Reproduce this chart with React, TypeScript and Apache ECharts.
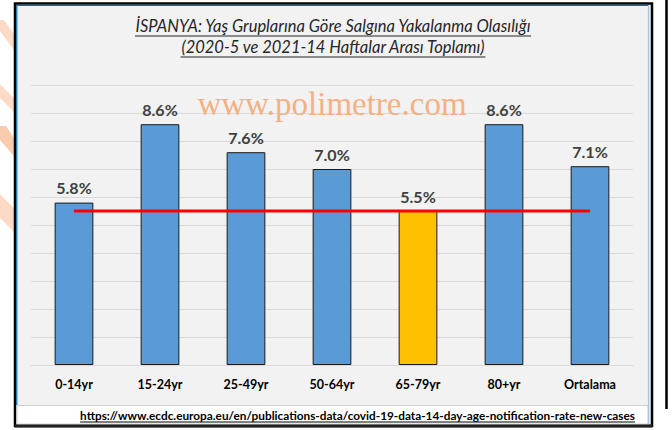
import React, { useEffect, useRef } from "react";
import * as echarts from "echarts";

const categories = ["0-14yr", "15-24yr", "25-49yr", "50-64yr", "65-79yr", "80+yr", "Ortalama"];
const values = [5.8, 8.6, 7.6, 7.0, 5.5, 8.6, 7.1];
const highlightCategory = "65-79yr";
const referenceValue = 5.5;
const yTicks = { min: 0, max: 10, interval: 1 };

const titleLine1 = "İSPANYA: Yaş Gruplarına Göre Salgına Yakalanma Olasılığı";
const titleLine2 = "(2020-5 ve 2021-14 Haftalar Arası Toplamı)";
const watermark = "www.polimetre.com";
const sourceUrl = "https://www.ecdc.europa.eu/en/publications-data/covid-19-data-14-day-age-notification-rate-new-cases";

function measure(text: string, font: string): number {
  const c = document.createElement("canvas").getContext("2d");
  if (!c) return text.length * 7;
  c.font = font;
  return c.measureText(text).width;
}

export default function App() {
  const ref = useRef<HTMLDivElement>(null);
  useEffect(() => {
    if (!ref.current) return;
    const chart = echarts.init(ref.current, undefined, { renderer: "svg" });
    const titleSize = 16.5;
    const urlSize = 11.8;
    const w1 = measure(titleLine1, `italic ${titleSize}px Lato`);
    const w2 = measure(titleLine2, `italic ${titleSize}px Lato`);
    const wu = measure(sourceUrl, `bold ${urlSize}px Lato`);
    const cx = 333;
    const t1y = 26;
    const t2y = 47;
    const uy = 415;
    const ux = 635;
    const peach = "rgba(248,190,150,0.55)";
    const titleStyle = (text: string) => ({
      text,
      fontFamily: "Lato",
      fontStyle: "italic",
      fontSize: titleSize,
      fill: "#262626",
      align: "center",
      verticalAlign: "middle",
    });
    chart.setOption({
      animation: false,
      grid: { left: 31, right: 39, top: 85, bottom: 65 },
      xAxis: {
        type: "category",
        data: categories,
        axisLine: { show: true, lineStyle: { color: "#d9d9d9", width: 1 } },
        axisTick: { show: false },
        axisLabel: {
          color: "#000",
          fontFamily: "Lato",
          fontWeight: "bold",
          fontSize: 12.5,
          margin: 13,
        },
      },
      yAxis: {
        type: "value",
        min: yTicks.min,
        max: yTicks.max,
        interval: yTicks.interval,
        axisLabel: { show: false },
        axisLine: { show: false },
        axisTick: { show: false },
        splitLine: { lineStyle: { color: "#d9d9d9", width: 1 } },
      },
      series: [
        {
          type: "bar",
          data: values.map((v, i) => ({
            value: v,
            itemStyle: {
              color: categories[i] === highlightCategory ? "#ffc000" : "#5b9bd5",
            },
          })),
          barCategoryGap: "55%",
          itemStyle: { borderColor: "#1a1a1a", borderWidth: 1 },
          label: {
            show: true,
            position: "top",
            distance: 7,
            formatter: (p: any) => Number(p.value).toFixed(1) + "%",
            color: "#404040",
            fontFamily: "Lato",
            fontWeight: "bold",
            fontSize: 16,
          },
          z: 2,
        },
        {
          type: "line",
          data: categories.map(() => referenceValue),
          symbol: "none",
          lineStyle: { color: "#ff0000", width: 3 },
          z: 3,
        },
      ],
      graphic: [
        // left edge watermark fragments
        { type: "polygon", z: -5, shape: { points: [[0, 20], [4, 20], [14, 34], [14, 50], [0, 31]] }, style: { fill: peach } },
        { type: "polygon", z: -5, shape: { points: [[0, 84], [14, 98], [14, 112], [0, 98]] }, style: { fill: peach } },
        { type: "polygon", z: -5, shape: { points: [[0, 126], [6, 126], [14, 138], [14, 156], [0, 140]] }, style: { fill: "rgba(246,170,120,0.6)" } },
        { type: "polygon", z: -5, shape: { points: [[0, 194], [14, 208], [14, 232], [0, 218]] }, style: { fill: peach } },
        // frame
        { type: "rect", z: -4, shape: { x: 15, y: 3.5, width: 637, height: 422.5 }, style: { fill: "#f2f2f2", stroke: "#000", lineWidth: 2.5 } },
        { type: "rect", z: -3, shape: { x: 17, y: 405.5, width: 631, height: 18.5 }, style: { fill: "#ffffff", stroke: "#d0d0d0", lineWidth: 1 } },
        { type: "line", z: -2, shape: { x1: 16.8, y1: 5, x2: 16.8, y2: 405 }, style: { stroke: "#0070c0", lineWidth: 1.2 } },
        { type: "line", z: -2, shape: { x1: 17, y1: 5.3, x2: 648, y2: 5.3 }, style: { stroke: "#0070c0", lineWidth: 1.2 } },
        { type: "line", z: -2, shape: { x1: 648.5, y1: 5, x2: 648.5, y2: 424 }, style: { stroke: "#9dc3e6", lineWidth: 1.2 } },
        { type: "line", z: -2, shape: { x1: 15, y1: 426, x2: 652, y2: 426 }, style: { stroke: "#222", lineWidth: 3 } },
        { type: "line", z: -2, shape: { x1: 666.5, y1: 0, x2: 666.5, y2: 409 }, style: { stroke: "#000", lineWidth: 2.5 } },
        // title
        { type: "text", z: 5, x: cx, y: t1y, style: titleStyle(titleLine1) },
        { type: "line", z: 5, shape: { x1: cx - w1 / 2, y1: t1y + 10, x2: cx + w1 / 2, y2: t1y + 10 }, style: { stroke: "#262626", lineWidth: 1 } },
        { type: "text", z: 5, x: cx, y: t2y, style: titleStyle(titleLine2) },
        { type: "line", z: 5, shape: { x1: cx - w2 / 2, y1: t2y + 10, x2: cx + w2 / 2, y2: t2y + 10 }, style: { stroke: "#262626", lineWidth: 1 } },
        // watermark
        { type: "text", z: 1, x: 332, y: 104, style: { text: watermark, fontFamily: "Liberation Serif", fontSize: 33, fill: "#f4b183", align: "center", verticalAlign: "middle" } },
        // source url
        { type: "text", z: 5, x: ux, y: uy, style: { text: sourceUrl, fontFamily: "Lato", fontWeight: "bold", fontSize: urlSize, fill: "#000", align: "right", verticalAlign: "middle" } },
        { type: "line", z: 5, shape: { x1: ux - wu, y1: uy + 7, x2: ux, y2: uy + 7 }, style: { stroke: "#000", lineWidth: 1 } },
      ],
    });
    return () => chart.dispose();
  }, []);
  return (
    <div
      ref={ref}
      style={{ position: "fixed", left: 0, top: 0, width: 672, height: 430, background: "#fff" }}
    />
  );
}
